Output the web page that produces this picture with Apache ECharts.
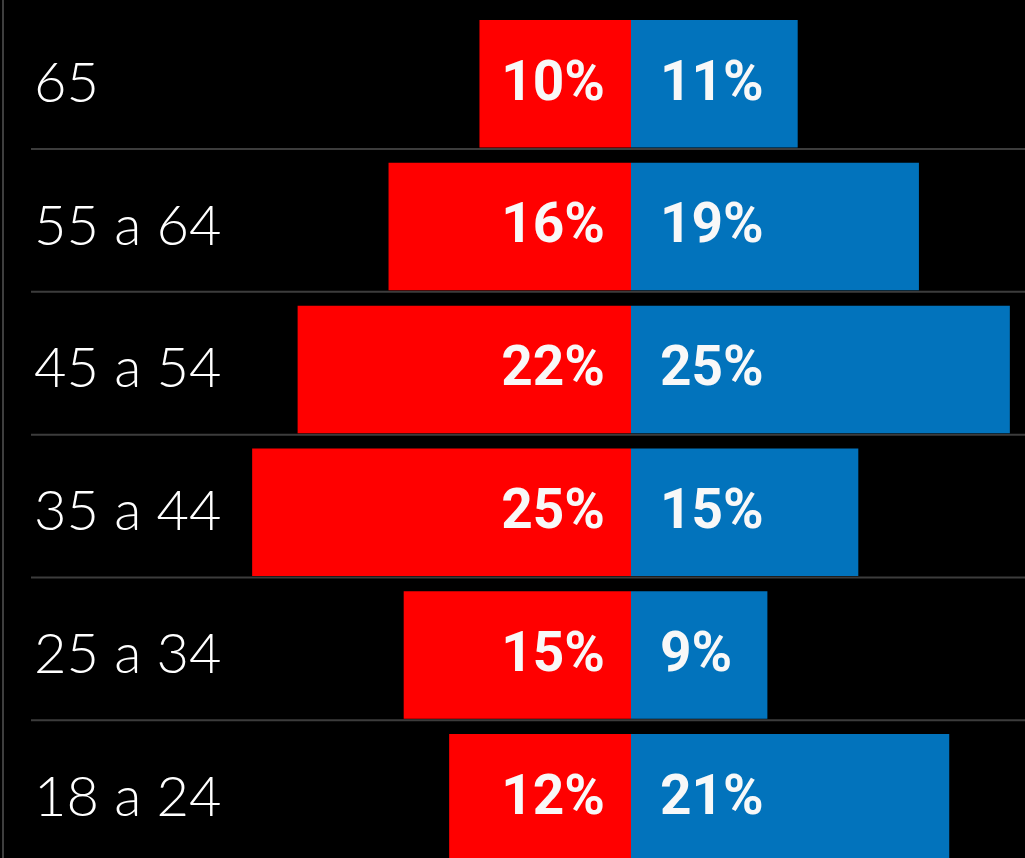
<!DOCTYPE html>
<html>
<head>
<meta charset="utf-8">
<script src="https://cdn.jsdelivr.net/npm/echarts@6/dist/echarts.min.js"></script>
<style>
  html, body { margin: 0; padding: 0; background: #000; overflow: hidden; }
  #chart { width: 1025px; height: 870px; }
</style>
</head>
<body>
<div id="chart"></div>
<script>
// Age groups, top to bottom
const ageGroups = ['65', '55 a 64', '45 a 54', '35 a 44', '25 a 34', '18 a 24'];
// Left side (red) and right side (blue) shares, in percent
const redShare  = [10, 16, 22, 25, 15, 12];
const blueShare = [11, 19, 25, 15, 9, 21];

const BAR_GAP = 0.107;          // fraction of each band left empty
const chart = echarts.init(document.getElementById('chart'));

const valueLabel = {
  show: true,
  color: '#f8f8f8',
  fontFamily: 'Roboto',
  fontWeight: 700,
  fontSize: 55,
  offset: [0, 2]
};

chart.setOption({
  backgroundColor: '#000',
  animation: false,
  grid: { left: 237, right: 0, top: 12.4, bottom: 0.8, outerBoundsMode: 'none', containLabel: false },
  xAxis: {
    type: 'value', min: -26, max: 26,
    show: false
  },
  yAxis: {
    type: 'category',
    data: ageGroups,
    inverse: true,
    axisLine: { show: false },
    axisTick: { show: false },
    splitLine: { show: false },
    axisLabel: {
      margin: 203,
      align: 'left',
      color: '#ffffff',
      fontFamily: 'Lato',
      fontWeight: 300,
      fontSize: 56,
      padding: [3, 0, 0, 0]
    }
  },
  graphic: [{
    type: 'rect',
    left: 2, top: 0,
    shape: { width: 2, height: 870 },
    style: { fill: '#3e3e3e' },
    silent: true
  }],
  series: [
    {
      name: 'red',
      type: 'bar',
      data: redShare.map(v => -v),
      barGap: '-100%',
      barCategoryGap: (BAR_GAP * 100) + '%',
      itemStyle: { color: '#ff0000' },
      label: Object.assign({}, valueLabel, {
        position: 'insideRight',
        distance: 26,
        formatter: p => Math.abs(p.value) + '%'
      })
    },
    {
      name: 'blue',
      type: 'bar',
      data: blueShare,
      barGap: '-100%',
      barCategoryGap: (BAR_GAP * 100) + '%',
      itemStyle: { color: '#0273bc' },
      label: Object.assign({}, valueLabel, {
        position: 'insideLeft',
        distance: 29,
        formatter: p => p.value + '%'
      })
    },
    {
      // thin rule under each row
      name: 'rules',
      type: 'custom',
      silent: true,
      clip: false,
      z: 1,
      data: ageGroups.map((_, i) => [0, i]),
      renderItem: (params, api) => {
        const c = api.coord([0, api.value(1)]);
        const band = api.size([0, 1])[1];
        const y = c[1] + band * (1 - BAR_GAP) / 2 + 1.5;
        return {
          type: 'line',
          shape: { x1: 31, y1: y, x2: api.getWidth(), y2: y },
          style: { stroke: '#3c3c3c', lineWidth: 2 }
        };
      }
    }
  ]
});
</script>
</body>
</html>
